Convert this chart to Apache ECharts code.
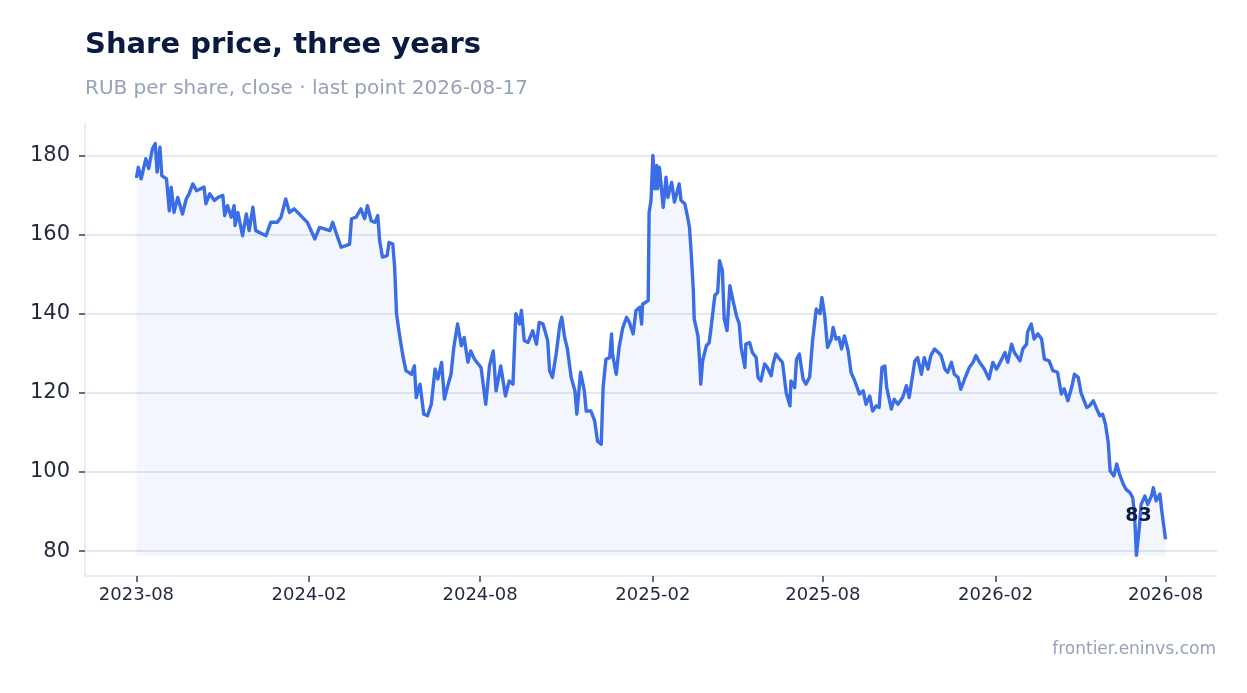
<!DOCTYPE html>
<html>
<head>
<meta charset="utf-8">
<script src="https://cdn.jsdelivr.net/npm/echarts@6/dist/echarts.min.js"></script>
<style>
  html, body { margin: 0; padding: 0; background: #ffffff; }
  #chart { width: 1247px; height: 693px; }
</style>
</head>
<body>
<div id="chart"></div>
<script>
// ---- data ----
const startDate = [2023, 8, 17];           // first close
const dayOffsets = [0,2,5,10,13,17,20,22,25,27,32,35,37,40,44,49,53,56,60,64,72,74,78,83,87,92,94,97,101,104,105,108,113,117,120,124,127,138,143,150,154,159,163,168,175,182,190,195,197,206,209,213,218,223,227,229,234,239,243,246,250,254,257,259,262,267,269,273,275,277,280,284,287,293,296,298,302,306,310,314,318,321,325,328,332,335,338,342,346,349,353,356,360,367,372,376,380,383,388,393,397,401,404,408,410,413,417,422,426,429,433,438,440,443,447,451,453,456,459,463,467,469,473,477,479,484,488,491,495,497,500,504,506,507,511,514,518,522,525,529,532,536,538,539,545,546,548,550,552,554,555,557,561,564,566,570,573,578,580,584,587,589,591,593,594,598,600,601,603,607,610,612,616,619,621,624,626,629,632,635,639,642,644,648,649,653,656,660,662,665,669,672,676,678,681,685,688,692,696,697,701,703,706,710,713,717,720,724,728,730,733,736,740,742,745,748,751,754,758,761,765,770,774,777,781,784,788,791,794,797,799,804,807,811,816,820,823,829,832,836,839,843,846,850,854,857,861,864,868,871,875,878,882,887,891,894,898,903,908,912,916,919,925,928,932,935,941,944,948,949,953,956,960,964,967,972,976,981,985,988,992,996,999,1003,1006,1012,1015,1019,1022,1026,1029,1032,1035,1037,1041,1044,1047,1051,1054,1058,1061,1063,1065,1068,1070,1074,1077,1081,1083,1086,1090,1092,1096];
const closePrices = [174.3,177,174.1,179.2,176.7,181.7,183,175.8,182.1,174.9,
174.1,166,172,165.6,169.4,165.2,169,170.3,172.8,171.1,
172,167.8,170.3,168.6,169.4,169.9,164.8,167.3,164.4,167.3,
162.3,165.6,159.7,165.2,161,166.9,161,159.7,163.1,163.1,
164.4,169,165.6,166.5,164.8,163.1,158.9,161.8,162.3,161,
163.1,160.2,156.8,157.2,157.6,164,164.4,166.5,164,167.3,
163.5,163.1,164.8,158.5,154.3,154.7,158,157.6,151.7,140,
134.9,129,125.6,124.7,126.8,118.8,122.2,114.6,114.2,117.1,
126,123.5,127.7,118.4,122.2,124.7,131.5,137.4,131.9,134,
127.7,130.6,128.5,126.4,117.1,126.8,130.6,120.5,126.8,119.2,
123,122.2,140,137.4,140.8,133.2,132.7,135.7,132.3,137.8,
137.4,133.2,125.6,123.9,129.8,137.4,139.1,134,131.1,123.9,
120.5,114.6,125.2,120.5,115.4,115.4,112.9,107.8,107,121.4,
128.5,128.9,134.9,129.8,124.7,131.5,136.5,139.1,137.8,134.9,
140.8,141.6,137.4,142.4,143.3,165.6,168.6,180,171.6,177.5,
171.6,177,166.9,174.5,169.4,173.2,168.2,172.8,168.6,167.8,
164.4,161.8,154.7,146.3,138.7,134.4,127.3,122.2,128.1,131.9,
132.7,136.5,144.6,145.4,153.4,150.9,138.7,135.7,147.1,143.7,
139.5,137.4,131.5,126.4,132.3,132.7,130.2,128.9,123.9,123,
127.3,126.4,124.3,127.3,129.8,128.5,127.7,120,116.7,123,
121.3,128.5,129.8,123.5,122.2,124,133,141.2,140,144.1,
139.5,131.5,133.6,136.5,133.6,134,131.1,134.4,130.6,125.2,
123,119.7,120.5,117.1,119.2,115.4,116.7,116.3,126.4,126.8,
121.4,115.9,118.4,117.1,118.8,121.8,118.8,128.1,128.9,124.7,
128.9,126,129.4,131.1,130.2,129.4,126,125.2,127.7,124.7,
123.9,120.9,123.5,126.4,127.7,129.4,127.7,126,123.5,127.7,
126,127.3,130.2,127.7,132.3,130.2,128.1,131.1,132.3,135.3,
137.4,133.6,134.9,133.6,128.5,128.1,125.6,125.2,119.7,121,
118,121.4,124.7,123.9,120,116.3,116.7,118,116.3,114.2,
114.6,112.1,107.4,100.3,99,102,99.4,96.9,95.6,94.8,
93.5,89.3,78.9,85.9,91.8,93.9,91.8,93.9,96,92.7,
94.4,90.1,83];
const xTickLabels = ['2023-08','2024-02','2024-08','2025-02','2025-08','2026-02','2026-08'];
const yTickValues = [80, 100, 120, 140, 160, 180];

// ---- build ----
const DAY = 86400000;
const t0 = new Date(startDate[0], startDate[1] - 1, startDate[2]).getTime();
const seriesData = dayOffsets.map((d, i) => [t0 + d * DAY, closePrices[i]]);
const tFirst = seriesData[0][0];
const tLast = seriesData[seriesData.length - 1][0];
const xPad = (tLast - tFirst) * 0.05;
const vMin = Math.min(...closePrices);
const vMax = Math.max(...closePrices);
const yPad = (vMax - vMin) * 0.05;
const xTickTs = xTickLabels.map(s => {
  const [y, m] = s.split('-').map(Number);
  return new Date(y, m - 1, startDate[2]).getTime();
});
const lastVal = closePrices[closePrices.length - 1];

const FONT = "'DejaVu Sans', sans-serif";
const chart = echarts.init(document.getElementById('chart'), null, { renderer: 'canvas' });
chart.setOption({
  animation: false,
  backgroundColor: '#ffffff',
  textStyle: { fontFamily: FONT },
  title: [
    { text: 'Share price, three years', left: 85, top: 31, padding: 0,
      textStyle: { fontSize: 29, fontWeight: 'bold', color: '#0b1a40', fontFamily: FONT } },
    { text: 'RUB per share, close · last point 2026-08-17', left: 85, top: 79, padding: 0,
      textStyle: { fontSize: 20, fontWeight: 'normal', color: '#94a3b8', fontFamily: FONT } },
    { text: 'frontier.eninvs.com', right: 31, top: 641, padding: 0,
      textStyle: { fontSize: 17, fontWeight: 'normal', color: '#94a3b8', fontFamily: FONT } }
  ],
  grid: { left: 85, right: 30, top: 123, bottom: 117, containLabel: false },
  xAxis: {
    type: 'value',
    min: tFirst - xPad,
    max: tLast + xPad,
    axisLine: { show: true, lineStyle: { color: '#e2e8f0', width: 1.5 } },
    axisTick: { show: true, customValues: xTickTs, length: 6, lineStyle: { color: '#334155', width: 1.5 } },
    axisLabel: {
      customValues: xTickTs,
      formatter: v => {
        const d = new Date(v);
        return d.getFullYear() + '-' + String(d.getMonth() + 1).padStart(2, '0');
      },
      color: '#1e293b', fontSize: 18, fontFamily: FONT, margin: 10
    },
    splitLine: { show: false }
  },
  yAxis: {
    type: 'value',
    min: vMin - yPad,
    max: vMax + yPad,
    axisLine: { show: true, lineStyle: { color: '#e2e8f0', width: 1.5 } },
    axisTick: { show: true, customValues: yTickValues, length: 6, lineStyle: { color: '#334155', width: 1.5 } },
    axisLabel: { customValues: yTickValues, color: '#1e293b', fontSize: 21, fontFamily: FONT, margin: 15 },
    splitLine: { show: true, lineStyle: { color: '#dde3ec', width: 1.5 } }
  },
  series: [
    {
      type: 'line',
      data: seriesData,
      showSymbol: false,
      symbol: 'none',
      lineStyle: { color: '#3b6de6', width: 3.4, join: 'round' },
      areaStyle: { color: 'rgba(59,109,230,0.09)', origin: vMin },
      z: 3
    },
    {
      type: 'scatter',
      data: [[tLast, lastVal]],
      symbolSize: 0,
      silent: true,
      itemStyle: { color: '#3b6de6' },
      label: {
        show: true, position: [-27, -23], align: 'center', verticalAlign: 'middle',
        formatter: () => String(Math.round(lastVal)),
        fontSize: 19, fontWeight: 'bold', color: '#0b1a40', fontFamily: FONT,
        textBorderWidth: 0, opacity: 1
      },
      z: 10
    }
  ]
});
</script>
</body>
</html>
